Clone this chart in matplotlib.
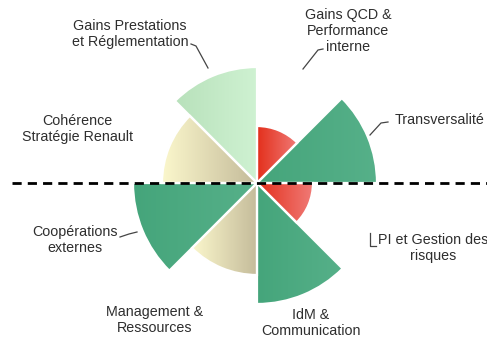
import numpy as np
import matplotlib.pyplot as plt
from matplotlib.patches import Wedge
from matplotlib.colors import to_rgb

# Sectors, counter-clockwise from east, 45 degrees each
categories = ["Transversalité", "Gains QCD &\nPerformance\ninterne",
              "Gains Prestations\net Réglementation", "Cohérence\nStratégie Renault",
              "Coopérations\nexternes", "Management &\nRessources",
              "IdM &\nCommunication", "PI et Gestion des\nrisques"]
values = [120, 57, 116, 95, 124, 92, 121, 56]
groups = ["green", "red", "light", "tan", "green", "tan", "green", "red"]

# left colour -> right colour of each fill
shades = {
    "green": ("#45a57b", "#56b089"),
    "red": ("#e3301c", "#f07a76"),
    "light": ("#b8e1bb", "#cff2d2"),
    "tan": ("#fbf7cc", "#c4bb9a"),
}

fig = plt.figure(figsize=(4.87, 3.39), dpi=100)
ax = fig.add_axes([0, 0, 1, 1])
ax.set_axis_off()


def gradient_wedge(r, a0, a1, c_left, c_right):
    w = Wedge((0, 0), r, a0, a1, facecolor="none", edgecolor="white", lw=1.6, zorder=3)
    ax.add_patch(w)
    bb = w.get_path().get_extents(w.get_patch_transform())
    c0, c1 = np.array(to_rgb(c_left)), np.array(to_rgb(c_right))
    t = np.linspace(0, 1, 64)[None, :, None]
    img = c0 + (c1 - c0) * t
    img = np.repeat(img, 4, axis=0)
    im = ax.imshow(img, extent=[bb.x0, bb.x1, bb.y0, bb.y1], origin="lower",
                   interpolation="bilinear", zorder=2)
    im.set_clip_path(w)


for i, (v, g) in enumerate(zip(values, groups)):
    cl, cr = shades[g]
    gradient_wedge(v, i * 45, (i + 1) * 45, cl, cr)

# dashed horizon
ax.plot([-245, 230], [0, 0], color="black", lw=2.0, dashes=(3.3, 2.2), zorder=5)

font = dict(family=["Liberation Sans", "DejaVu Sans"], fontsize=10.3, color="#2e2e2e",
            ha="center", va="center", linespacing=1.15)

label_pos = [(138, 63), (91, 152), (-127, 149), (-180, 54),
             (-182, -57), (-102, -137), (54, -140), (176, -65)]
for name, (x, y) in zip(categories, label_pos):
    if name == "Transversalité":
        ax.text(x, y, name, **{**font, "ha": "left"})
    else:
        ax.text(x, y, name, **font)

leaders = [
    [(131, 61), (124, 60), (113, 48)],
    [(66, 134), (61, 133), (46, 114)],
    [(-66, 139), (-61, 137), (-49, 115)],
    [(-137, -54), (-128, -51), (-120, -49)],
    [(113, -50), (113, -63), (119, -63)],
]
for pts in leaders:
    xs, ys = zip(*pts)
    ax.plot(xs, ys, color="#444444", lw=0.9, zorder=4)

ax.set_xlim(-257, 230)
ax.set_ylim(-156, 183)
ax.set_aspect("equal")

fig.savefig("out.png", dpi=100)
